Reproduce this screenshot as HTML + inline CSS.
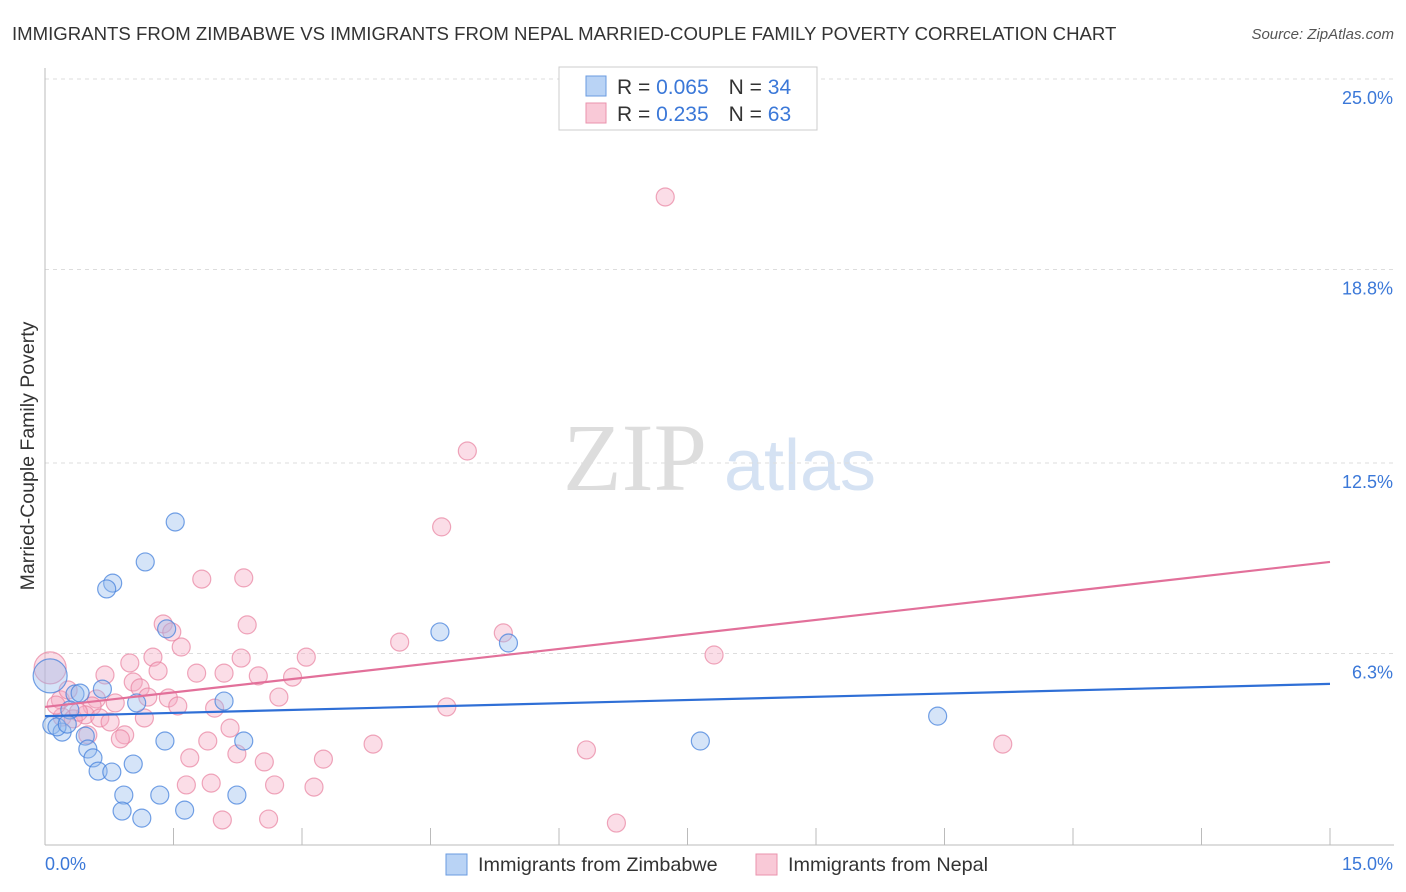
<!DOCTYPE html>
<html><head><meta charset="utf-8"><style>
body{margin:0;background:#fff;font-family:"Liberation Sans",sans-serif}
svg{display:block}
</style></head><body>
<svg width="1406" height="892" xmlns="http://www.w3.org/2000/svg">
<text x="12" y="40" font-size="18.6" fill="#333">IMMIGRANTS FROM ZIMBABWE VS IMMIGRANTS FROM NEPAL MARRIED-COUPLE FAMILY POVERTY CORRELATION CHART</text>
<text x="1394" y="39" font-size="15" fill="#555" font-style="italic" text-anchor="end">Source: ZipAtlas.com</text>
<g><text x="635" y="490" font-size="96" fill="#ddd" font-family="Liberation Serif" text-anchor="middle">ZIP</text><text x="800" y="490" font-size="72" fill="#d5e2f3" text-anchor="middle">atlas</text></g>
<g id="grid"></g><g id="axes"></g>
<text transform="translate(34,456) rotate(-90)" font-size="19.5" fill="#333" text-anchor="middle">Married-Couple Family Poverty</text>
<g id="pts"></g><g id="trend"></g>
<g>
<rect x="559" y="67" width="258" height="63" fill="#fff" stroke="#ccc"/>
<rect x="586" y="76" width="20" height="20" fill="#b9d3f5" stroke="#6a9be0"/>
<rect x="586" y="103" width="20" height="20" fill="#f9c9d7" stroke="#ea93ad"/>
<text x="617" y="94" font-size="21" fill="#333">R = <tspan fill="#3b78d8">0.065</tspan><tspan dx="20">N = </tspan><tspan fill="#3b78d8">34</tspan></text>
<text x="617" y="121" font-size="21" fill="#333">R = <tspan fill="#3b78d8"> 0.235</tspan><tspan dx="20">N = </tspan><tspan fill="#3b78d8">63</tspan></text>
</g>
<g>
<rect x="446" y="854" width="21" height="21" fill="#b9d3f5" stroke="#6a9be0"/>
<text x="478" y="871" font-size="19.8" fill="#333">Immigrants from Zimbabwe</text>
<rect x="756" y="854" width="21" height="21" fill="#f9c9d7" stroke="#ea93ad"/>
<text x="788" y="871" font-size="19.8" fill="#333">Immigrants from Nepal</text>
</g>
</svg>
<script>
const yTicks=[6.3,12.5,18.8,25.0];
const xTickLabels=["0.0%","15.0%"];
const zimX=[1.52,1.17,0.79,0.72,1.42,4.61,5.41,0.67,0.35,0.41,1.07,2.09,0.29,0.08,0.20,0.14,0.47,1.40,2.32,7.65,10.42,0.50,0.56,0.62,0.78,1.03,0.92,1.34,2.24,0.90,1.63,1.13,0.06,0.26];
const zimY=[10.58,9.28,8.59,8.40,7.10,7.00,6.64,5.14,4.98,5.01,4.69,4.75,4.46,3.97,3.74,3.91,3.61,3.45,3.45,3.45,4.26,3.19,2.90,2.47,2.44,2.70,1.69,1.69,1.69,1.17,1.20,0.94,5.57,4.00];
const zimR=[9,9,9,9,9,9,9,9,9,9,9,9,9,9,9,9,9,9,9,9,9,9,9,9,9,9,9,9,9,9,9,9,17,9];
const nepX=[7.24,4.93,4.63,1.83,2.32,1.38,2.36,1.48,1.59,4.14,5.35,7.81,1.26,0.99,2.29,3.05,1.32,0.70,1.77,2.09,2.49,2.89,1.03,1.11,1.20,1.44,2.73,0.60,0.82,1.55,1.98,4.69,0.55,0.47,0.20,0.33,0.64,0.76,1.16,2.16,0.93,0.88,1.90,3.83,11.18,6.32,2.24,2.56,3.25,1.69,1.65,1.94,2.68,3.14,2.07,2.61,6.67,0.06,0.18,0.39,0.13,0.50,0.27];
const nepY=[21.16,12.89,10.42,8.72,8.76,7.26,7.23,7.00,6.51,6.67,6.97,6.25,6.18,5.99,6.15,6.18,5.73,5.60,5.66,5.66,5.57,5.53,5.37,5.18,4.88,4.85,4.88,4.82,4.69,4.59,4.52,4.56,4.59,4.30,4.23,4.17,4.20,4.07,4.20,3.87,3.65,3.52,3.45,3.35,3.35,3.16,3.03,2.77,2.86,2.90,2.02,2.08,2.02,1.95,0.88,0.91,0.78,5.83,4.79,4.39,4.62,3.65,5.11];
const zimTrend=[4.26,5.31];
const nepTrend=[4.56,9.28];
const X0=45,X1=1330,Y0=847;
const sx=v=>X0+(v/15)*(X1-X0);
const sy=v=>Y0-v*(192/6.25);
const NS="http://www.w3.org/2000/svg";
function mk(tag,attrs,parent){const e=document.createElementNS(NS,tag);for(const k in attrs)e.setAttribute(k,attrs[k]);document.getElementById(parent).appendChild(e);return e;}
yTicks.forEach(t=>{
  const l=mk('line',{x1:45,x2:1394,y1:sy(t),y2:sy(t),stroke:'#ddd','stroke-dasharray':'4,4'},'grid');
  
  
  const tx=mk('text',{x:1393,y:sy(t)+25,'font-size':18,fill:'#3b78d8','text-anchor':'end'},'grid');
  tx.textContent=t.toFixed(1)+'%';
  
  
});
const ax=mk('line',{x1:45,x2:45,y1:68,y2:845,stroke:'#bbb'},'axes');


const bx=mk('line',{x1:45,x2:1394,y1:845,y2:845,stroke:'#bbb'},'axes');


for(let i=1;i<=10;i++){const t=mk('line',{x1:sx(i*1.5),x2:sx(i*1.5),y1:828,y2:845,stroke:'#bbb'},'axes');
  
  }
const xl0=mk('text',{x:45,y:870,'font-size':18,fill:'#3b78d8'},'axes');xl0.textContent=xTickLabels[0];


const xl1=mk('text',{x:1393,y:870,'font-size':18,fill:'#3b78d8','text-anchor':'end'},'axes');xl1.textContent=xTickLabels[1];


nepX.forEach((v,i)=>{const c=mk('circle',{cx:sx(v),cy:sy(nepY[i]),r:i==57?16:9,fill:'rgba(246,170,195,0.4)',stroke:'rgba(232,130,160,0.7)','stroke-width':1.2},'pts');
  
  });
zimX.forEach((v,i)=>{const c=mk('circle',{cx:sx(v),cy:sy(zimY[i]),r:zimR[i],fill:'rgba(150,188,238,0.4)',stroke:'rgba(70,130,220,0.75)','stroke-width':1.2},'pts');
  
  });
const tz=mk('line',{x1:sx(0),x2:sx(15),y1:sy(zimTrend[0]),y2:sy(zimTrend[1]),stroke:'#2f6fd6','stroke-width':2.2},'trend');


const tn=mk('line',{x1:sx(0),x2:sx(15),y1:sy(nepTrend[0]),y2:sy(nepTrend[1]),stroke:'#e2709a','stroke-width':2.2},'trend');


</script>
</body></html>
